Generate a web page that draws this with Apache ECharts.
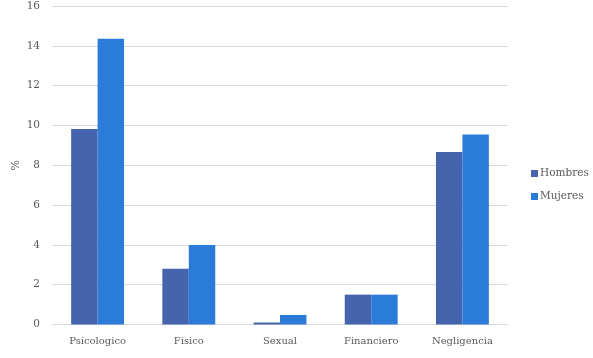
<!DOCTYPE html>
<html>
<head>
<meta charset="utf-8">
<script src="https://cdn.jsdelivr.net/npm/echarts@6/dist/echarts.min.js"></script>
<style>
  html, body { margin: 0; padding: 0; background: #fff; }
  #chart { width: 593px; height: 358px; }
</style>
</head>
<body>
<div id="chart"></div>
<script>
const categories = ['Psicologico', 'Fisico', 'Sexual', 'Financiero', 'Negligencia']
const hombres = [9.82, 2.8, 0.1, 1.5, 8.67]
const mujeres = [14.35, 4.0, 0.48, 1.5, 9.55]
const COLORS = ['#4664AD', '#2B7BD8']
const FONT = 'DejaVu Serif'

const chart = echarts.init(document.getElementById('chart'))
chart.setOption({
  animation: false,
  textStyle: { fontFamily: FONT },
  grid: { left: 52, right: 85, top: 6, bottom: 33.5, outerBoundsMode: 'none', containLabel: false },
  legend: {
    orient: 'vertical',
    left: 526,
    top: 163,
    itemWidth: 7,
    itemHeight: 7,
    itemGap: 12,
    icon: 'rect',
    textStyle: { fontFamily: FONT, fontSize: 10.5, color: '#595959', padding: [0, 0, 0, -3] },
    data: ['Hombres', 'Mujeres']
  },
  xAxis: {
    type: 'category',
    data: categories,
    axisLine: { lineStyle: { color: '#d9d9d9' } },
    axisTick: { show: false },
    axisLabel: { color: '#595959', fontSize: 10, margin: 12, fontFamily: FONT }
  },
  yAxis: {
    type: 'value',
    min: 0,
    max: 16,
    interval: 2,
    name: '%',
    nameLocation: 'middle',
    nameGap: 30,
    nameRotate: 90,
    nameMoveOverlap: false,
    nameTextStyle: { color: '#595959', fontSize: 11, fontFamily: FONT },
    axisLabel: { color: '#595959', fontSize: 10.5, margin: 12, fontFamily: FONT },
    splitLine: { lineStyle: { color: '#d9d9d9' } }
  },
  series: [
    {
      name: 'Hombres',
      type: 'bar',
      data: hombres,
      barGap: '0%',
      barCategoryGap: '42%',
      itemStyle: { color: COLORS[0] }
    },
    {
      name: 'Mujeres',
      type: 'bar',
      data: mujeres,
      itemStyle: { color: COLORS[1] }
    }
  ]
})
</script>
</body>
</html>
